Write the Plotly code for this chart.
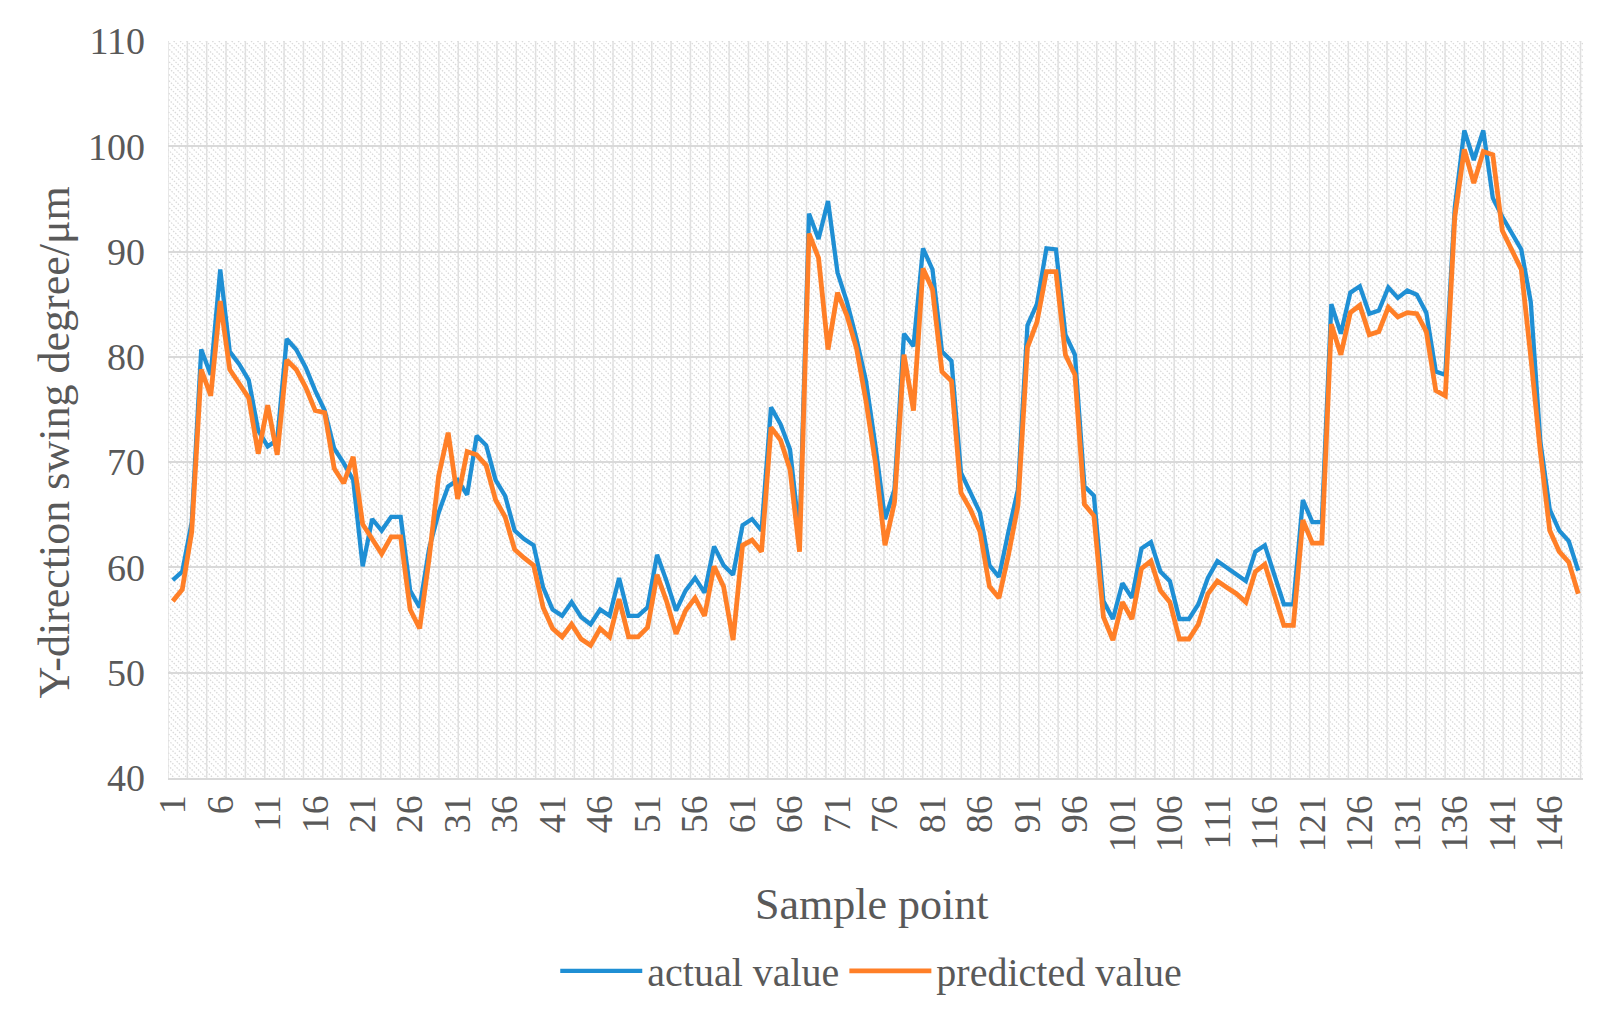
import base64
import plotly.graph_objects as go

sample_points = list(range(1, 150))

actual_value = [
    58.8, 59.6, 64.3, 80.7, 78.3, 88.3, 80.5, 79.3, 77.8, 73.0,
    71.5, 72.1, 81.7, 80.7, 79.0, 76.8, 74.9, 71.3, 69.9, 68.3,
    60.1, 64.6, 63.5, 64.8, 64.8, 57.8, 56.2, 61.8, 65.2, 67.7,
    68.3, 66.9, 72.5, 71.6, 68.3, 66.8, 63.5, 62.7, 62.1, 58.1,
    56.0, 55.4, 56.7, 55.3, 54.6, 56.0, 55.4, 59.0, 55.4, 55.4,
    56.2, 61.2, 58.7, 55.9, 57.8, 59.0, 57.6, 62.0, 60.2, 59.3,
    64.0, 64.6, 63.5, 75.2, 73.6, 71.2, 63.0, 93.6, 91.2, 94.8,
    88.0, 85.2, 81.7, 77.7, 71.5, 64.6, 67.4, 82.2, 81.0, 90.3,
    88.3, 80.5, 79.6, 69.0, 67.1, 65.2, 60.2, 59.1, 63.4, 67.4,
    83.0, 85.0, 90.3, 90.2, 82.1, 80.2, 67.7, 66.8, 56.8, 55.1,
    58.5, 57.1, 61.8, 62.4, 59.6, 58.7, 55.1, 55.1, 56.5, 59.0,
    60.6, 60.0, 59.3, 58.7, 61.5, 62.1, 59.3, 56.5, 56.5, 66.4,
    64.3, 64.3, 85.0, 82.2, 86.1, 86.7, 84.1, 84.4, 86.6, 85.6,
    86.3, 85.9, 84.2, 78.6, 78.3, 94.2, 101.5, 98.7, 101.5, 95.1,
    93.3, 91.7, 90.2, 85.2, 72.0, 65.5, 63.5, 62.5, 59.7,
]

predicted_value = [
    56.8, 57.9, 63.4, 78.8, 76.3, 85.3, 78.8, 77.4, 76.1, 70.8,
    75.4, 70.7, 79.7, 78.8, 77.1, 74.9, 74.7, 69.4, 68.0, 70.5,
    64.1, 62.7, 61.3, 62.9, 62.9, 56.0, 54.2, 60.9, 68.7, 72.8,
    66.5, 71.0, 70.7, 69.7, 66.4, 64.8, 61.7, 60.9, 60.2, 56.2,
    54.2, 53.4, 54.6, 53.2, 52.6, 54.2, 53.4, 57.0, 53.4, 53.4,
    54.3, 59.3, 56.8, 53.7, 55.9, 57.1, 55.4, 60.1, 58.2, 53.1,
    62.1, 62.6, 61.5, 73.3, 72.1, 69.3, 61.5, 91.7, 89.4, 80.7,
    86.1, 83.9, 80.8, 75.8, 69.9, 62.1, 66.2, 80.2, 74.9, 88.4,
    86.4, 78.6, 77.7, 67.1, 65.5, 63.4, 58.2, 57.1, 61.2, 65.9,
    80.9, 83.3, 88.1, 88.1, 80.2, 78.3, 66.0, 64.9, 55.3, 53.1,
    56.7, 55.1, 59.9, 60.6, 57.8, 56.7, 53.2, 53.2, 54.6, 57.5,
    58.7, 58.1, 57.5, 56.7, 59.6, 60.3, 57.5, 54.5, 54.5, 64.5,
    62.3, 62.3, 83.1, 80.2, 84.2, 84.9, 82.1, 82.4, 84.7, 83.8,
    84.2, 84.1, 82.4, 76.8, 76.3, 93.3, 99.7, 96.5, 99.5, 99.2,
    92.0, 90.2, 88.3, 80.0, 71.0, 63.5, 61.5, 60.5, 57.5,
]

x_tick_vals = list(range(1, 150, 5))
y_tick_vals = list(range(40, 111, 10))

# ---- hatched plot-area background (decorative, drawn as an SVG image) ----
W, H = 1415, 749
parts = []
step = 6.45
k = -H
while k < W:
    parts.append(f'<line x1="{k:.2f}" y1="0" x2="{k + H:.2f}" y2="{H}" />')
    k += step
diag = "".join(parts)
vparts = []
vx = 0.0
while vx <= W:
    vparts.append(f'<line x1="{vx:.2f}" y1="0" x2="{vx:.2f}" y2="{H}" />')
    vx += 19.35
vert = "".join(vparts)
svg = (
    f'<svg xmlns="http://www.w3.org/2000/svg" width="{W}" height="{H}" '
    f'viewBox="0 0 {W} {H}" preserveAspectRatio="none">'
    f'<rect width="{W}" height="{H}" fill="#ffffff"/>'
    f'<g stroke="#d9d9d9" stroke-width="1.3" stroke-dasharray="1.5,1.5">{diag}</g>'
    f'<g stroke="#e0e0e0" stroke-width="1.5">{vert}</g>'
    '</svg>'
)
bg_src = "data:image/svg+xml;base64," + base64.b64encode(svg.encode()).decode()

font_family = "Liberation Serif, Times New Roman, serif"
text_color = "#595959"

fig = go.Figure()
fig.add_trace(go.Scatter(
    x=sample_points, y=actual_value, mode="lines", name="actual value",
    line=dict(color="#1F8FD4", width=4.3),
))
fig.add_trace(go.Scatter(
    x=sample_points, y=predicted_value, mode="lines", name="predicted value",
    line=dict(color="#FF7F27", width=4.8),
))

fig.update_layout(
    width=1614, height=1027,
    margin=dict(l=160, r=39, t=21, b=257),
    paper_bgcolor="white",
    plot_bgcolor="rgba(0,0,0,0)",
    font=dict(family=font_family, color=text_color, size=36),
    images=[dict(
        source=bg_src, xref="paper", yref="paper", x=0, y=1,
        sizex=1, sizey=1, xanchor="left", yanchor="top",
        sizing="stretch", layer="below",
    )],
    showlegend=True,
    legend=dict(
        orientation="h", x=0.497, xanchor="center", y=-0.2617, yanchor="middle",
        font=dict(size=40, color=text_color, family=font_family),
        itemwidth=82, bgcolor="rgba(0,0,0,0)",
    ),
    annotations=[
        dict(text="Sample point", xref="paper", yref="paper", x=0.497, y=-0.171,
             xanchor="center", yanchor="middle", showarrow=False,
             font=dict(size=44, color=text_color, family=font_family)),
        dict(text="Y-direction swing degree/μm", xref="paper", yref="paper",
             x=-0.0799, y=0.455, xanchor="center", yanchor="middle", textangle=-90,
             showarrow=False, font=dict(size=44, color=text_color, family=font_family)),
    ],
)

fig.update_xaxes(
    range=[0.5, 149.5], tickmode="array", tickvals=x_tick_vals,
    ticktext=[str(v) for v in x_tick_vals], tickangle=-90,
    showgrid=False, zeroline=False, showline=True, linecolor="#d9d9d9", linewidth=2,
    ticks="", ticklabelstandoff=0,
    tickfont=dict(size=38, color=text_color, family=font_family),
)
fig.update_yaxes(
    range=[40, 110], tickmode="array", tickvals=y_tick_vals,
    showgrid=True, gridcolor="#d9d9d9", gridwidth=1.6, zeroline=False,
    showline=False, ticks="", ticklabelstandoff=22, ticklabeloverflow="allow",
    tickfont=dict(size=38, color=text_color, family=font_family),
)

fig.write_html("out.html")
